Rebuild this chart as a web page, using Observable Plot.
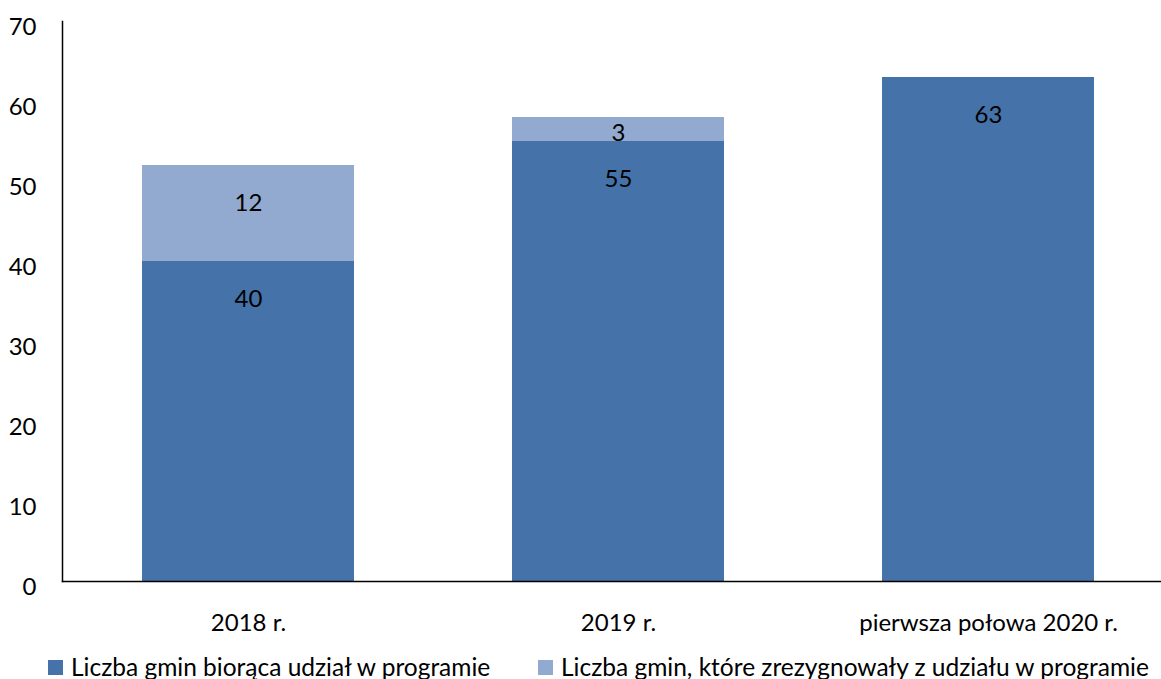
<!DOCTYPE html>
<html>
<head>
<meta charset="utf-8">
<script src="https://cdn.jsdelivr.net/npm/d3@7"></script>
<script src="https://cdn.jsdelivr.net/npm/@observablehq/plot@0.6"></script>
<style>
  html, body { margin: 0; padding: 0; background: #fff; overflow: hidden; }
  #wrap { position: relative; width: 1161px; height: 679px; font-family: Lato, "Open Sans", sans-serif; }
  .legend { position: absolute; top: 652px; left: 0; width: 1161px; height: 27px; font-size: 24.5px; line-height: 30px; color: #000; }
  .item { position: absolute; top: 0; display: flex; align-items: center; white-space: nowrap; }
  .sw { width: 15px; height: 15px; margin-right: 8px; }
</style>
</head>
<body>
<div id="wrap"></div>
<script>
const categories = ["2018 r.", "2019 r.", "pierwsza połowa 2020 r."];
const participating = [40, 55, 63];
const resigned = [12, 3, 0];
const seriesNames = [
  "Liczba gmin biorąca udział w programie",
  "Liczba gmin, które zrezygnowały z udziału w programie"
];
const seriesColors = ["#4572A8", "#93AAD0"];
const yTicks = [0, 10, 20, 30, 40, 50, 60, 70];

const rows = [];
categories.forEach((c, i) => {
  rows.push({cat: c, series: seriesNames[0], value: participating[i], start: 0, end: participating[i]});
  rows.push({cat: c, series: seriesNames[1], value: resigned[i], start: participating[i], end: participating[i] + resigned[i]});
});

const FS = 24;

const chart = Plot.plot({
  width: 1161,
  height: 645,
  marginTop: 21,
  marginBottom: 64,
  marginLeft: 62,
  marginRight: 0,
  style: {fontFamily: "Lato, 'Open Sans', sans-serif", color: "#000", background: "#fff"},
  x: {type: "band", domain: categories, range: [62, 1173], paddingInner: 0.428, paddingOuter: 0.214, label: null},
  y: {domain: [0, 70], label: null},
  color: {domain: seriesNames, range: seriesColors},
  marks: [
    Plot.rectY(rows, {x: "cat", y1: "start", y2: "end", fill: "series"}),
    Plot.text(rows.filter(d => d.value > 0), {
      x: "cat",
      y: d => Math.max(d.end - 4.75, d.start + 1),
      text: d => String(d.value),
      fontSize: FS,
      fill: "#000"
    }),
    Plot.axisY({ticks: yTicks, tickSize: 0, tickPadding: 26, fontSize: FS, dy: 6, label: null}),
    Plot.axisX({tickSize: 0, tickPadding: 32, fontSize: FS, label: null}),
    Plot.frame({anchor: "left", stroke: "#000", strokeWidth: 1.5}),
    Plot.frame({anchor: "bottom", stroke: "#000", strokeWidth: 1.5})
  ]
});

const wrap = document.getElementById("wrap");
wrap.appendChild(chart);

const legend = document.createElement("div");
legend.className = "legend";
const lefts = [48, 538];
seriesNames.forEach((name, i) => {
  const item = document.createElement("div");
  item.className = "item";
  item.style.left = lefts[i] + "px";
  const sw = document.createElement("span");
  sw.className = "sw";
  sw.style.background = seriesColors[i];
  const t = document.createElement("span");
  t.textContent = name;
  item.appendChild(sw);
  item.appendChild(t);
  legend.appendChild(item);
});
wrap.appendChild(legend);
</script>
</body>
</html>
